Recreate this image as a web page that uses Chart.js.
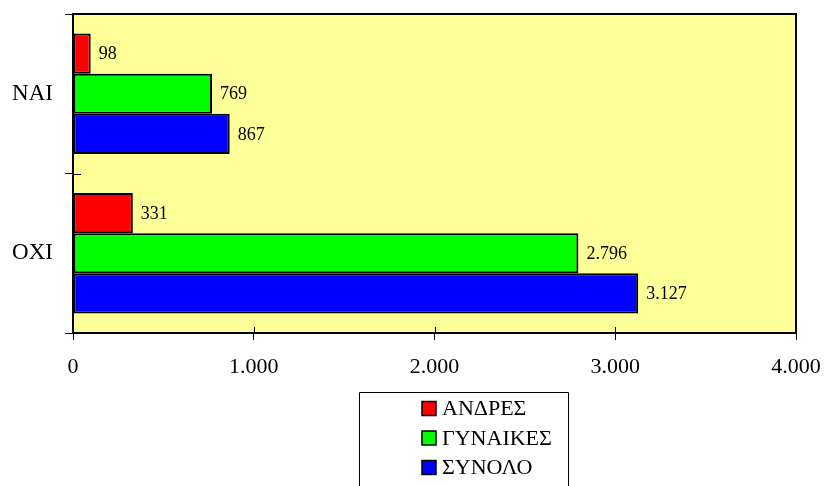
<!DOCTYPE html>
<html>
<head>
<meta charset="utf-8">
<script src="https://cdn.jsdelivr.net/npm/chart.js@4.4.1/dist/chart.umd.min.js"></script>
<style>
  html, body { margin: 0; padding: 0; background: #fff; }
  canvas { display: block; }
</style>
</head>
<body>
<canvas id="chart" width="824" height="486"></canvas>
<script>
// ===== data =====
const categories = ["NAI", "OXI"];
const andres = [98, 331];
const gynaikes = [769, 2796];
const synolo = [867, 3127];
const seriesNames = ["ΑΝΔΡΕΣ", "ΓΥΝΑΙΚΕΣ", "ΣΥΝΟΛΟ"];
const xTicks = [0, 1000, 2000, 3000, 4000];

const FONT = "'Liberation Serif', 'Times New Roman', serif";
Chart.defaults.font.family = FONT;
Chart.defaults.color = "#000";

// 3127 -> "3.127"
function fmt(v) {
  return String(v).replace(/\B(?=(\d{3})+(?!\d))/g, ".");
}

// ===== plugins =====
const plotFrame = {
  id: "plotFrame",
  beforeDraw(chart) {
    const { ctx, chartArea: a } = chart;
    ctx.save();
    ctx.fillStyle = "#FFFF99";
    ctx.fillRect(a.left, a.top, a.right - a.left, a.bottom - a.top);
    ctx.restore();
  },
  afterDraw(chart) {
    const { ctx, chartArea: a, scales } = chart;
    ctx.save();
    ctx.strokeStyle = "#000";
    ctx.lineWidth = 1;
    // inner part of the crossing ticks
    ctx.beginPath();
    scales.x.ticks.forEach((t, i) => {
      const px = Math.round(scales.x.getPixelForTick(i)) + 0.5;
      ctx.moveTo(px, a.bottom);
      ctx.lineTo(px, a.bottom - 6);
    });
    const n = categories.length;
    for (let k = 0; k <= n; k++) {
      const py = Math.round(a.top + k * (a.bottom - a.top) / n) + 0.5;
      ctx.moveTo(a.left, py);
      ctx.lineTo(a.left + 8, py);
    }
    ctx.stroke();
    // frame
    ctx.lineWidth = 2;
    ctx.strokeRect(a.left, a.top, a.right - a.left, a.bottom - a.top);
    ctx.restore();
  }
};

const barLabels = {
  id: "barLabels",
  afterDatasetsDraw(chart) {
    const { ctx } = chart;
    ctx.save();
    ctx.font = "18px " + FONT;
    ctx.fillStyle = "#000";
    ctx.textBaseline = "middle";
    ctx.textAlign = "left";
    chart.data.datasets.forEach((ds, di) => {
      chart.getDatasetMeta(di).data.forEach((bar, i) => {
        ctx.fillText(fmt(ds.data[i]), bar.x + 8, bar.y + 1);
      });
    });
    ctx.restore();
  }
};

const boxLegend = {
  id: "boxLegend",
  afterDraw(chart) {
    const { ctx } = chart;
    const left = 359, top = 392, right = 568;
    ctx.save();
    ctx.strokeStyle = "#000";
    ctx.lineWidth = 1;
    ctx.beginPath();
    ctx.moveTo(left + 0.5, chart.height);
    ctx.lineTo(left + 0.5, top + 0.5);
    ctx.lineTo(right + 0.5, top + 0.5);
    ctx.lineTo(right + 0.5, chart.height);
    ctx.stroke();

    ctx.font = "22px " + FONT;
    ctx.textBaseline = "middle";
    ctx.textAlign = "left";
    chart.data.datasets.forEach((ds, i) => {
      const cy = 408.5 + i * 29.5;
      ctx.fillStyle = ds.backgroundColor;
      ctx.fillRect(422, cy - 7, 14, 14);
      ctx.lineWidth = 1.5;
      ctx.strokeRect(422, cy - 7, 14, 14);
      ctx.fillStyle = "#000";
      ctx.fillText(ds.label, 442, cy + 1);
    });
    ctx.restore();
  }
};

// ===== chart =====
function makeSet(label, data, color) {
  return {
    label: label,
    data: data,
    backgroundColor: color,
    borderColor: "#000",
    borderWidth: 2,
    borderSkipped: false,
    barPercentage: 1,
    categoryPercentage: 0.755
  };
}

new Chart(document.getElementById("chart").getContext("2d"), {
  type: "bar",
  data: {
    labels: categories,
    datasets: [
      makeSet(seriesNames[0], andres, "#FF0000"),
      makeSet(seriesNames[1], gynaikes, "#00FF00"),
      makeSet(seriesNames[2], synolo, "#0000FF")
    ]
  },
  options: {
    indexAxis: "y",
    responsive: false,
    animation: false,
    layout: { padding: { top: 14, right: 28, bottom: 0, left: 0 } },
    plugins: { legend: { display: false }, tooltip: { enabled: false } },
    scales: {
      x: {
        min: xTicks[0],
        max: xTicks[xTicks.length - 1],
        afterBuildTicks(scale) { scale.ticks = xTicks.map(v => ({ value: v })); },
        afterFit(scale) {
          scale.height = 153;
          scale.paddingLeft = 0;
          scale.paddingRight = 0;
        },
        border: { display: false },
        grid: { drawOnChartArea: false, drawTicks: true, tickLength: 7, color: "#000", lineWidth: 1 },
        ticks: {
          color: "#000",
          padding: 14,
          maxRotation: 0,
          font: { family: FONT, size: 22 },
          callback: v => fmt(v)
        }
      },
      y: {
        offset: true,
        afterFit(scale) {
          scale.width = 73;
          scale.paddingTop = 0;
          scale.paddingBottom = 0;
        },
        border: { display: false },
        grid: { offset: true, drawOnChartArea: false, drawTicks: true, tickLength: 8, color: "#000", lineWidth: 1 },
        ticks: {
          color: "#000",
          padding: 12,
          font: { family: FONT, size: 23 }
        }
      }
    }
  },
  plugins: [plotFrame, barLabels, boxLegend]
});
</script>
</body>
</html>
